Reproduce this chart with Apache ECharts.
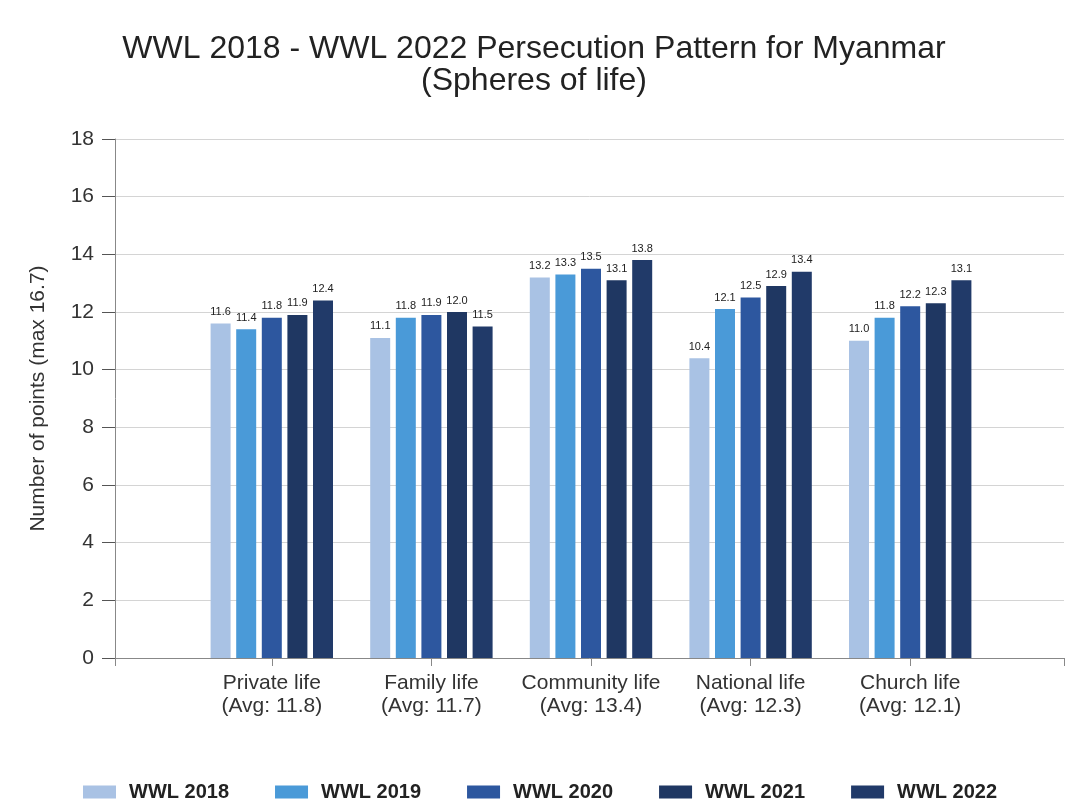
<!DOCTYPE html>
<html>
<head>
<meta charset="utf-8">
<script src="https://cdn.jsdelivr.net/npm/echarts@6/dist/echarts.min.js"></script>
<style>
  html, body { margin: 0; padding: 0; background: #fff; }
  #main { width: 1068px; height: 801px; }
</style>
</head>
<body>
<div id="main"></div>
<script>
var categories = ['Private life\n(Avg: 11.8)', 'Family life\n(Avg: 11.7)', 'Community life\n(Avg: 13.4)', 'National life\n(Avg: 12.3)', 'Church life\n(Avg: 12.1)'];
var seriesNames = ['WWL 2018', 'WWL 2019', 'WWL 2020', 'WWL 2021', 'WWL 2022'];
var wwl2018 = [11.6, 11.1, 13.2, 10.4, 11.0];
var wwl2019 = [11.4, 11.8, 13.3, 12.1, 11.8];
var wwl2020 = [11.8, 11.9, 13.5, 12.5, 12.2];
var wwl2021 = [11.9, 12.0, 13.1, 12.9, 12.3];
var wwl2022 = [12.4, 11.5, 13.8, 13.4, 13.1];
var colors = ['#a9c2e4', '#4a9ad8', '#2d579f', '#1f3762', '#213a69'];

var chart = echarts.init(document.getElementById('main'));

var allData = [wwl2018, wwl2019, wwl2020, wwl2021, wwl2022];
var series = [];
for (var i = 0; i < allData.length; i++) {
    series.push({
        name: seriesNames[i],
        type: 'bar',
        xAxisIndex: 1,
        yAxisIndex: 1,
        data: allData[i],
        barWidth: 20,
        barGap: '28%',
        itemStyle: { color: colors[i] },
        label: {
            show: true,
            position: 'top',
            distance: 6,
            fontSize: 11,
            color: '#222',
            formatter: function (p) { return p.value.toFixed(1); }
        }
    });
}

var option = {
    backgroundColor: '#fff',
    animation: false,
    textStyle: { fontFamily: 'Liberation Sans' },
    color: colors,
    title: {
        text: 'WWL 2018 - WWL 2022 Persecution Pattern for Myanmar\n(Spheres of life)',
        left: 'center',
        top: 28,
        textStyle: {
            fontSize: 32,
            fontWeight: 'normal',
            color: '#222',
            lineHeight: 32
        }
    },
    legend: {
        data: seriesNames,
        left: 78,
        top: 777,
        icon: 'rect',
        itemWidth: 33,
        itemHeight: 13,
        itemGap: 46,
        textStyle: { fontSize: 20, fontWeight: 'bold', color: '#222', padding: [0, 0, 0, 8] }
    },
    grid: [
        { left: 115, right: 4, top: 139, bottom: 143 },
        { left: 192, right: 78, top: 139, bottom: 143 }
    ],
    xAxis: [
        {
            gridIndex: 0,
            type: 'value',
            min: 0,
            max: 1,
            interval: 1,
            axisLine: { show: true, lineStyle: { color: '#888' } },
            axisTick: { show: true, length: 8, lineStyle: { color: '#888' } },
            axisLabel: { show: false },
            splitLine: { show: false }
        },
        {
            gridIndex: 1,
            type: 'category',
            data: categories,
            axisLine: { show: false },
            axisTick: { show: true, alignWithLabel: true, length: 8, lineStyle: { color: '#888' } },
            axisLabel: { fontSize: 21, color: '#333', lineHeight: 23, margin: 14, interval: 0 }
        }
    ],
    yAxis: [
        {
            gridIndex: 0,
            type: 'value',
            min: 0,
            max: 18,
            interval: 2,
            name: 'Number of points (max 16.7)',
            nameLocation: 'middle',
            nameGap: 66,
            nameTextStyle: { fontSize: 21, color: '#333' },
            axisLine: { show: true, lineStyle: { color: '#888' } },
            axisTick: { show: true, length: 13, lineStyle: { color: '#555' } },
            axisLabel: { fontSize: 21, color: '#333', margin: 21 },
            splitLine: { show: true, lineStyle: { color: '#d4d4d4' } }
        },
        {
            gridIndex: 1,
            type: 'value',
            min: 0,
            max: 18,
            interval: 2,
            show: false,
            splitLine: { show: false }
        }
    ],
    series: series
};

chart.setOption(option);
</script>
</body>
</html>
